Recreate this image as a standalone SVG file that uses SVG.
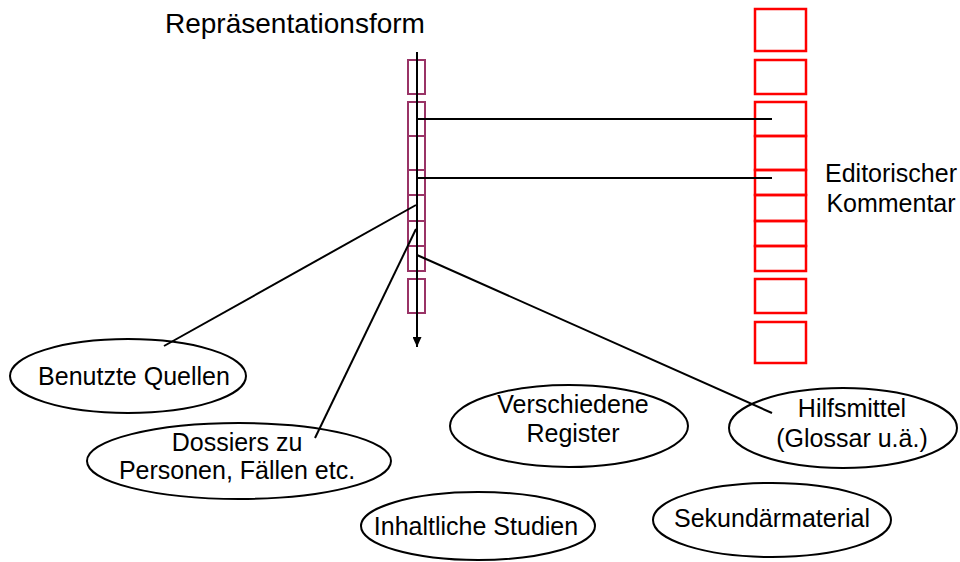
<svg xmlns="http://www.w3.org/2000/svg" width="960" height="562" viewBox="0 0 960 562">
<style>
  text { font-family: "Liberation Sans", Arial, sans-serif; font-size: 25px; fill: #000; }
  .lbl { text-anchor: middle; }
  .ell { fill: none; stroke: #000; stroke-width: 2; }
  .pbox { fill: none; stroke: #993366; stroke-width: 2; }
  .rbox { fill: none; stroke: #ff0000; stroke-width: 2.5; }
  .ln { stroke: #000; stroke-width: 2; fill: none; }
</style>
<defs>
  <marker id="arr" viewBox="0 0 10 9" refX="10" refY="4.5" markerWidth="10" markerHeight="9" markerUnits="userSpaceOnUse" orient="auto">
    <path d="M0,0 L10,4.5 L0,9 z" fill="#000"/>
  </marker>
</defs>
<rect width="960" height="562" fill="#fff"/>

<g id="title">
  <text x="165" y="33" style="font-size:28px">Repräsentationsform</text>
</g>

<g id="repr-column">
  <rect class="pbox" x="408" y="60" width="17" height="34"/>
  <rect class="pbox" x="408" y="102" width="17" height="34"/>
  <rect class="pbox" x="408" y="136" width="17" height="34"/>
  <rect class="pbox" x="408" y="170" width="17" height="25"/>
  <rect class="pbox" x="408" y="195" width="17" height="26"/>
  <rect class="pbox" x="408" y="221" width="17" height="25"/>
  <rect class="pbox" x="408" y="246" width="17" height="25"/>
  <rect class="pbox" x="408" y="279" width="17" height="34"/>
</g>

<g id="kommentar-column">
  <rect class="rbox" x="755" y="9" width="51" height="42"/>
  <rect class="rbox" x="755" y="60" width="51" height="34"/>
  <rect class="rbox" x="755" y="102" width="51" height="34"/>
  <rect class="rbox" x="755" y="136" width="51" height="34"/>
  <rect class="rbox" x="755" y="170" width="51" height="25"/>
  <rect class="rbox" x="755" y="195" width="51" height="26"/>
  <rect class="rbox" x="755" y="221" width="51" height="25"/>
  <rect class="rbox" x="755" y="246" width="51" height="25"/>
  <rect class="rbox" x="755" y="279" width="51" height="34"/>
  <rect class="rbox" x="755" y="322" width="51" height="41"/>
</g>

<g id="kommentar-label">
  <text class="lbl" x="891" y="182">Editorischer</text>
  <text class="lbl" x="891" y="212">Kommentar</text>
</g>

<g id="benutzte-quellen">
  <ellipse class="ell" cx="128" cy="376" rx="118" ry="37"/>
  <text class="lbl" x="134" y="385">Benutzte Quellen</text>
</g>

<g id="dossiers">
  <ellipse class="ell" cx="239" cy="461" rx="152" ry="38"/>
  <text class="lbl" x="237" y="451">Dossiers zu</text>
  <text class="lbl" x="237" y="479">Personen, Fällen etc.</text>
</g>

<g id="verschiedene-register">
  <ellipse class="ell" cx="569" cy="426" rx="119" ry="41"/>
  <text class="lbl" x="573" y="413">Verschiedene</text>
  <text class="lbl" x="573" y="442">Register</text>
</g>

<g id="hilfsmittel">
  <ellipse class="ell" cx="843" cy="428" rx="114" ry="40"/>
  <text class="lbl" x="852" y="417">Hilfsmittel</text>
  <text class="lbl" x="852" y="447">(Glossar u.ä.)</text>
</g>

<g id="inhaltliche-studien">
  <ellipse class="ell" cx="478" cy="526" rx="117" ry="34"/>
  <text class="lbl" x="476" y="535">Inhaltliche Studien</text>
</g>

<g id="sekundaermaterial">
  <ellipse class="ell" cx="772" cy="520" rx="119" ry="37"/>
  <text class="lbl" x="772" y="527">Sekundärmaterial</text>
</g>

<g id="connectors">
  <line class="ln" x1="417" y1="52" x2="417" y2="347" marker-end="url(#arr)"/>
  <line class="ln" x1="417" y1="119" x2="772" y2="119"/>
  <line class="ln" x1="417" y1="178" x2="772" y2="178"/>
  <line class="ln" x1="416" y1="205" x2="164" y2="346"/>
  <line class="ln" x1="416" y1="229" x2="315" y2="438"/>
  <line class="ln" x1="417" y1="255" x2="772" y2="413"/>
</g>
</svg>
